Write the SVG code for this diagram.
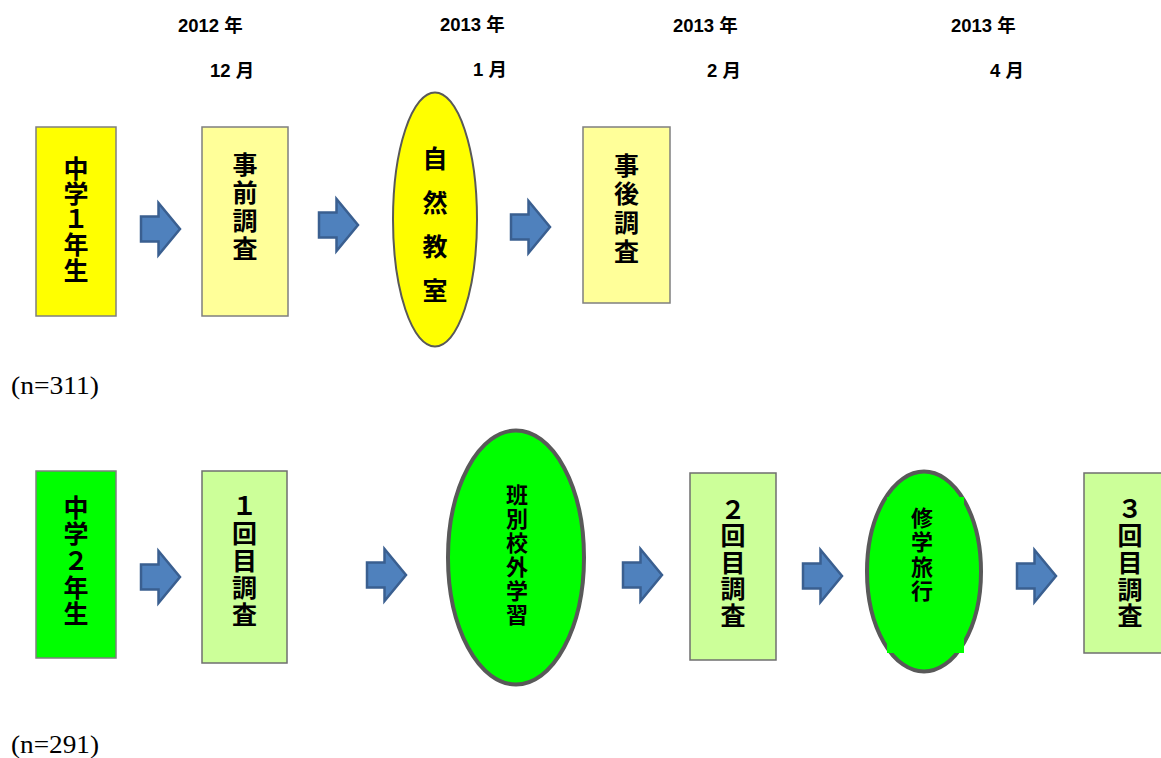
<svg xmlns="http://www.w3.org/2000/svg" width="1161" height="758" viewBox="0 0 1161 758">
<style>
.date{font-family:"Liberation Sans","Noto Sans CJK JP",sans-serif;font-weight:bold;font-size:18.5px;fill:#000}
.v{font-family:"Noto Sans CJK JP","Liberation Sans",sans-serif;font-weight:bold;font-size:25px;fill:#000;writing-mode:vertical-rl;text-orientation:upright}
.vs{font-family:"Noto Sans CJK JP","Liberation Sans",sans-serif;font-weight:bold;font-size:22px;fill:#000;writing-mode:vertical-rl;text-orientation:upright}
.n{font-family:"Liberation Serif","Noto Serif CJK JP",serif;font-size:26px;fill:#000}
.yb{fill:#FFFF00;stroke:#7F7F7F;stroke-width:1.5}
.lyb{fill:#FFFF99;stroke:#7F7F7F;stroke-width:1.5}
.gb{fill:#00FF00;stroke:#7F7F7F;stroke-width:1.5}
.lgb{fill:#CCFF99;stroke:#6F6F6F;stroke-width:1.5}
.arr{fill:#4F81BD;stroke:#3A5F90;stroke-width:2.5;stroke-linejoin:miter}
</style>
<defs>
<path id="ar" d="M1,-12.5 H18.5 V-26 L40,0 L18.5,26 V12.5 H1 Z"/>
</defs>
<rect width="1161" height="758" fill="#FFFFFF"/>

<g id="dates">
<text class="date" x="178" y="32">2012 年</text>
<text class="date" x="210" y="77">12 月</text>
<text class="date" x="440" y="31">2013 年</text>
<text class="date" x="473" y="76">1 月</text>
<text class="date" x="673" y="32">2013 年</text>
<text class="date" x="707" y="77">2 月</text>
<text class="date" x="951" y="32">2013 年</text>
<text class="date" x="990" y="77">4 月</text>
</g>

<g id="n-top"><text class="n" x="11" y="394" textLength="88" lengthAdjust="spacingAndGlyphs">(n=311)</text></g>
<g id="n-bottom"><text class="n" x="11" y="753" textLength="88" lengthAdjust="spacingAndGlyphs">(n=291)</text></g>

<g id="node-grade1">
<rect class="yb" x="36" y="127" width="80" height="189"/>
<text class="v" x="76" y="155.5" letter-spacing="0.5">中学１年生</text>
</g>
<g id="node-pre">
<rect class="lyb" x="202" y="127" width="86" height="189"/>
<text class="v" x="245" y="151.5" letter-spacing="3">事前調査</text>
</g>
<g id="node-nature">
<ellipse cx="435" cy="219.5" rx="42" ry="127" fill="#FFFF00" stroke="#595959" stroke-width="2"/>
<text class="v" x="435" y="146" letter-spacing="19">自然教室</text>
</g>
<g id="node-post">
<rect class="lyb" x="583" y="127" width="87" height="176"/>
<text class="v" x="626.5" y="152.5" letter-spacing="3.7">事後調査</text>
</g>

<g id="node-grade2">
<rect class="gb" x="36" y="471" width="80" height="187"/>
<text class="v" x="76" y="494.5" letter-spacing="1.7">中学２年生</text>
</g>
<g id="node-survey1">
<rect class="lgb" x="202" y="471" width="85" height="192"/>
<text class="v" x="244.5" y="493.5" letter-spacing="2">１回目調査</text>
</g>
<g id="node-field">
<ellipse cx="516" cy="557.5" rx="68" ry="127" fill="#00FF00" stroke="#595959" stroke-width="4"/>
<text class="vs" x="517" y="484" letter-spacing="2">班別校外学習</text>
</g>
<g id="node-survey2">
<rect class="lgb" x="690" y="473" width="86" height="187"/>
<text class="v" x="733" y="496.5" letter-spacing="1.5">２回目調査</text>
</g>
<g id="node-trip">
<ellipse cx="924" cy="571.5" rx="57" ry="100" fill="#00FF00" stroke="#595959" stroke-width="4"/>
<rect x="887" y="497" width="77" height="156" fill="#00FF00"/>
<text class="vs" x="922" y="506.5" letter-spacing="2.5">修学旅行</text>
</g>
<g id="node-survey3">
<rect class="lgb" x="1084" y="473" width="80" height="180"/>
<text class="v" x="1130" y="496.5" letter-spacing="1.7">３回目調査</text>
</g>

<g id="connectors">
<use href="#ar" class="arr" transform="translate(140,229)"/>
<use href="#ar" class="arr" transform="translate(318,225)"/>
<use href="#ar" class="arr" transform="translate(510,227)"/>
<use href="#ar" class="arr" transform="translate(140,577)"/>
<use href="#ar" class="arr" transform="translate(366,575)"/>
<use href="#ar" class="arr" transform="translate(622,575)"/>
<use href="#ar" class="arr" transform="translate(802,576)"/>
<use href="#ar" class="arr" transform="translate(1016,576)"/>
</g>
</svg>
